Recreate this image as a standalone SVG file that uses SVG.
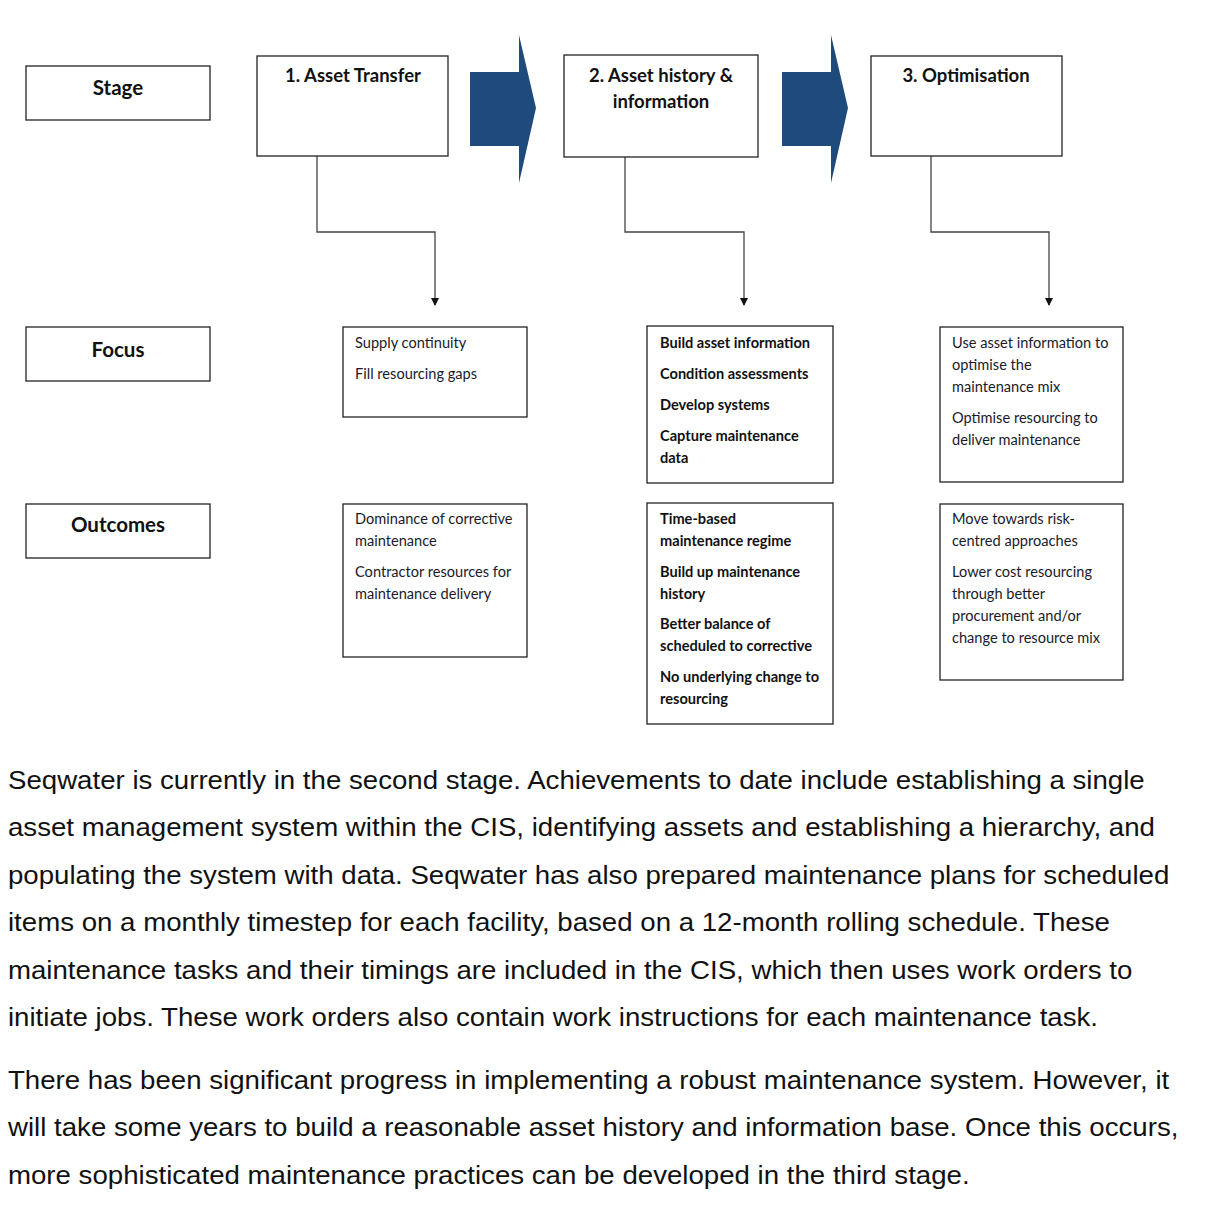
<svg xmlns="http://www.w3.org/2000/svg" width="1210" height="1207" viewBox="0 0 1210 1207">
<style>
.box{fill:#fff;stroke:#222;stroke-width:1.3}
.hd{font-family:Lato,"Liberation Sans",sans-serif;font-weight:bold;font-size:18.5px;fill:#111;text-anchor:middle}
.lb{font-family:Lato,"Liberation Sans",sans-serif;font-weight:bold;font-size:20.5px;fill:#111;text-anchor:middle}
.tx{font-family:Lato,"Liberation Sans",sans-serif;font-size:14.6px;fill:#1a1a2a}
.bd{font-family:Lato,"Liberation Sans",sans-serif;font-size:14.6px;font-weight:bold;fill:#111}
.con{fill:none;stroke:#444;stroke-width:1.3}
.big{fill:#1f4a7c}
.para{font-family:"Liberation Sans",Arial,sans-serif;font-size:26px;fill:#111}
</style>
<defs>
<marker id="ah" markerWidth="8" markerHeight="8" refX="7" refY="4" orient="auto" markerUnits="userSpaceOnUse">
<path d="M0,0 L8,4 L0,8 z" fill="#111"/>
</marker>
</defs>
<rect width="1210" height="1207" fill="#fff"/>

<g id="big-arrows">
<polygon class="big" points="470,72 519,72 519,35 536,108 519,183 519,146 470,146"/>
<polygon class="big" points="782,72 831,72 831,35 848,108 831,183 831,146 782,146"/>
</g>

<g id="connectors">
<path class="con" d="M317,156 V232 H435 V305" marker-end="url(#ah)"/>
<path class="con" d="M625,157 V232 H744 V305" marker-end="url(#ah)"/>
<path class="con" d="M931,156 V232 H1049 V305" marker-end="url(#ah)"/>
</g>

<g id="stage-label"><rect class="box" x="26" y="66" width="184" height="54"/><text class="lb" x="118" y="95">Stage</text></g>
<g id="focus-label"><rect class="box" x="26" y="327" width="184" height="54"/><text class="lb" x="118" y="357">Focus</text></g>
<g id="outcomes-label"><rect class="box" x="26" y="504" width="184" height="54"/><text class="lb" x="118" y="532">Outcomes</text></g>

<g id="stage1"><rect class="box" x="257" y="56" width="191" height="100"/><text class="hd" x="353" y="82">1. Asset Transfer</text></g>
<g id="stage2"><rect class="box" x="564" y="55" width="194" height="102"/><text class="hd" x="661" y="82">2. Asset history &amp;</text><text class="hd" x="661" y="108">information</text></g>
<g id="stage3"><rect class="box" x="871" y="56" width="191" height="100"/><text class="hd" x="966" y="82">3. Optimisation</text></g>

<g id="focus1"><rect class="box" x="343" y="327" width="184" height="90"/>
<text class="tx" x="355" y="348">Supply continuity</text>
<text class="tx" x="355" y="379">Fill resourcing gaps</text></g>

<g id="focus2"><rect class="box" x="647" y="326" width="186" height="157"/>
<text class="bd" x="660" y="348">Build asset information</text>
<text class="bd" x="660" y="379">Condition assessments</text>
<text class="bd" x="660" y="410">Develop systems</text>
<text class="bd" x="660" y="441">Capture maintenance</text>
<text class="bd" x="660" y="463">data</text></g>

<g id="focus3"><rect class="box" x="940" y="327" width="183" height="155"/>
<text class="tx" x="952" y="348">Use asset information to</text>
<text class="tx" x="952" y="370">optimise the</text>
<text class="tx" x="952" y="392">maintenance mix</text>
<text class="tx" x="952" y="423">Optimise resourcing to</text>
<text class="tx" x="952" y="445">deliver maintenance</text></g>

<g id="outcome1"><rect class="box" x="343" y="504" width="184" height="153"/>
<text class="tx" x="355" y="524">Dominance of corrective</text>
<text class="tx" x="355" y="546">maintenance</text>
<text class="tx" x="355" y="577">Contractor resources for</text>
<text class="tx" x="355" y="599">maintenance delivery</text></g>

<g id="outcome2"><rect class="box" x="647" y="503" width="186" height="221"/>
<text class="bd" x="660" y="524">Time-based</text>
<text class="bd" x="660" y="546">maintenance regime</text>
<text class="bd" x="660" y="577">Build up maintenance</text>
<text class="bd" x="660" y="599">history</text>
<text class="bd" x="660" y="629">Better balance of</text>
<text class="bd" x="660" y="651">scheduled to corrective</text>
<text class="bd" x="660" y="682">No underlying change to</text>
<text class="bd" x="660" y="704">resourcing</text></g>

<g id="outcome3"><rect class="box" x="940" y="504" width="183" height="176"/>
<text class="tx" x="952" y="524">Move towards risk-</text>
<text class="tx" x="952" y="546">centred approaches</text>
<text class="tx" x="952" y="577">Lower cost resourcing</text>
<text class="tx" x="952" y="599">through better</text>
<text class="tx" x="952" y="621">procurement and/or</text>
<text class="tx" x="952" y="643">change to resource mix</text></g>

<g id="paragraphs" transform="scale(1.063,1)">
<text class="para" x="7.5" y="789">Seqwater is currently in the second stage. Achievements to date include establishing a single</text>
<text class="para" x="7.5" y="836.5">asset management system within the CIS, identifying assets and establishing a hierarchy, and</text>
<text class="para" x="7.5" y="884">populating the system with data. Seqwater has also prepared maintenance plans for scheduled</text>
<text class="para" x="7.5" y="931.5">items on a monthly timestep for each facility, based on a 12-month rolling schedule. These</text>
<text class="para" x="7.5" y="979">maintenance tasks and their timings are included in the CIS, which then uses work orders to</text>
<text class="para" x="7.5" y="1026.5">initiate jobs. These work orders also contain work instructions for each maintenance task.</text>
<text class="para" x="7.5" y="1089">There has been significant progress in implementing a robust maintenance system. However, it</text>
<text class="para" x="7.5" y="1136.5">will take some years to build a reasonable asset history and information base. Once this occurs,</text>
<text class="para" x="7.5" y="1184">more sophisticated maintenance practices can be developed in the third stage.</text>
</g>
</svg>
